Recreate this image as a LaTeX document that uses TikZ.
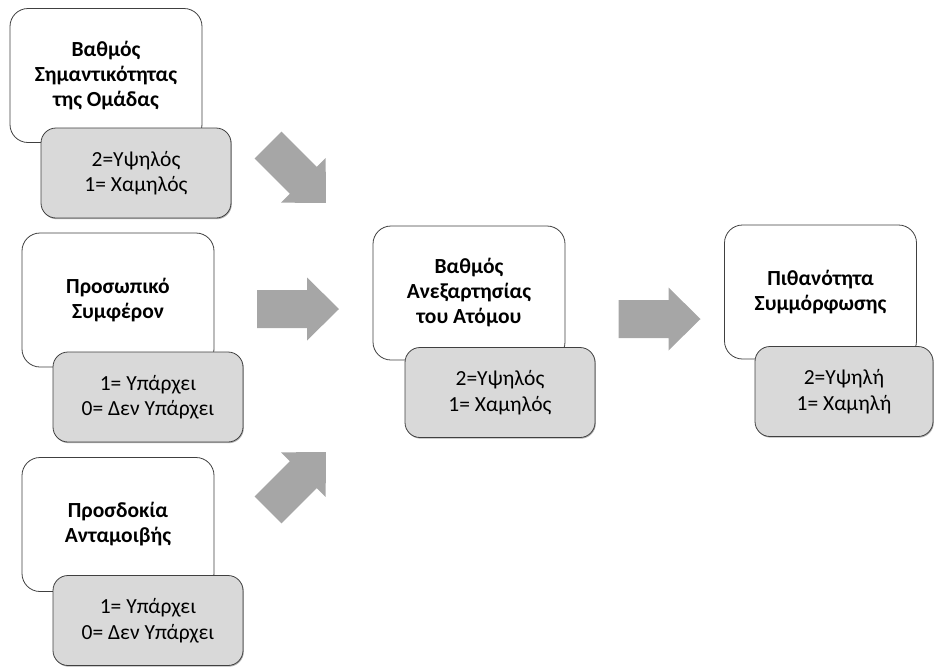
\documentclass[tikz,border=0pt]{standalone}
\usepackage{fontspec}
\setmainfont{Carlito}
\usetikzlibrary{shadows}

\definecolor{boxline}{HTML}{404040}
\definecolor{valuefill}{HTML}{D9D9D9}
\definecolor{arrowgrey}{HTML}{A6A6A6}

\tikzset{
  factor/.style={draw=boxline, fill=white, line width=0.8pt, rounded corners=18pt,
    minimum width=192pt, minimum height=134pt, align=center,
    font=\bfseries\fontsize{21.5}{25}\selectfont},
  values/.style={draw=boxline, fill=valuefill, line width=0.8pt, rounded corners=15pt,
    minimum width=190pt, minimum height=90pt, align=center,
    font=\fontsize{21.5}{25.5}\selectfont,
    drop shadow={shadow xshift=0.8pt, shadow yshift=-1.2pt, fill=black, opacity=0.3}},
  pics/blockarrow/.style={code={
    \fill[arrowgrey] (-41,-19) -- (9,-19) -- (9,-31.5) -- (41,0) -- (9,31.5)
      -- (9,19) -- (-41,19) -- cycle;
  }}
}

\begin{document}
\begin{tikzpicture}[x=1pt, y=-1pt]
    \useasboundingbox (0,0) rectangle (935,667);

    % Factor 1 - importance of the group
    \node[factor] (group) at (106,75.5) {Βαθμός\\Σημαντικότητας\\της Ομάδας};
    \node[values] (groupval) at (136,173) {2=Υψηλός\\1= Χαμηλός};

    % Factor 2 - personal interest
    \node[factor] (interest) at (118,300) {Προσωπικό\\Συμφέρον};
    \node[values] (interestval) at (148,397) {1= Υπάρχει\\0= Δεν Υπάρχει};

    % Factor 3 - expected reward
    \node[factor] (reward) at (118,524.5) {Προσδοκία\\Ανταμοιβής};
    \node[values] (rewardval) at (148,620.5) {1= Υπάρχει\\0= Δεν Υπάρχει};

    % Middle - independence of the individual
    \node[factor] (indep) at (469,293) {Βαθμός\\Ανεξαρτησίας\\του Ατόμου};
    \node[values] (indepval) at (500,392.5) {2=Υψηλός\\1= Χαμηλός};

    % Result - probability of compliance
    \node[factor] (comply) at (820.5,292) {Πιθανότητα\\Συμμόρφωσης};
    \node[values, minimum width=178pt] (complyval) at (844,391.5) {2=Υψηλή\\1= Χαμηλή};

    % Block arrows
    \pic[rotate=-45] (arrowgroup) at (297,174) {blockarrow};
    \pic (arrowinterest) at (298,309) {blockarrow};
    \pic[rotate=45] (arrowreward) at (297,481) {blockarrow};
    \pic (arrowindep) at (659.5,319) {blockarrow};
\end{tikzpicture}
\end{document}
